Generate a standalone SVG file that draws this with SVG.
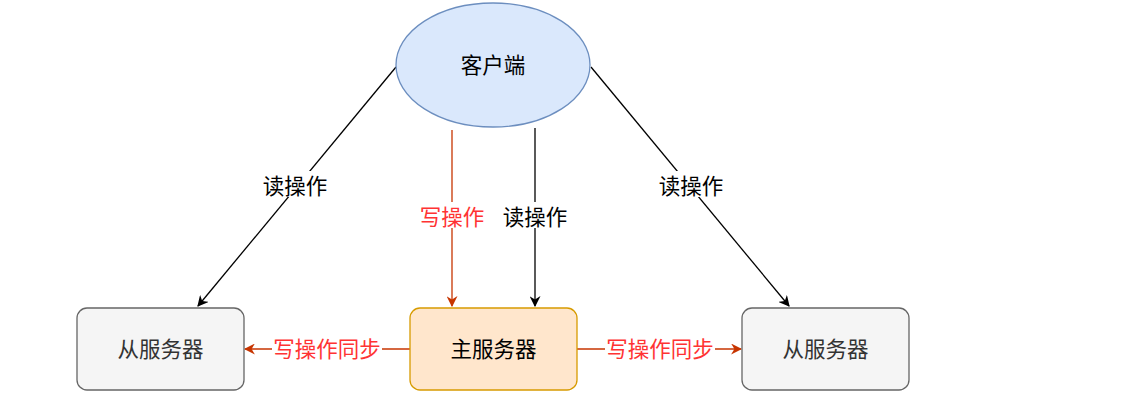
<svg xmlns="http://www.w3.org/2000/svg" width="1145" height="419" viewBox="0 0 1145 419">
<style>
text{font-family:"Noto Sans CJK SC","Liberation Sans",sans-serif;font-size:21.5px;text-anchor:middle;dominant-baseline:central}
.blk{stroke:#000;stroke-width:1.3;fill:none}
.red{stroke:#c73500;stroke-width:1.3;fill:none}
.lbl{fill:#000}
.rlbl{fill:#ff3333}
.bg{fill:#fff}
</style>
<defs>
<marker id="ab" viewBox="0 0 10 10" refX="9" refY="5" markerWidth="11" markerHeight="11" markerUnits="userSpaceOnUse" orient="auto"><path d="M0,0 L10,5 L0,10 L3,5 Z" fill="#000"/></marker>
<marker id="ar" viewBox="0 0 10 10" refX="9" refY="5" markerWidth="11" markerHeight="11" markerUnits="userSpaceOnUse" orient="auto"><path d="M0,0 L10,5 L0,10 L3,5 Z" fill="#c73500"/></marker>
</defs>
<rect width="1145" height="419" fill="#fff"/>
<g id="connectors">
<line class="blk" x1="396" y1="67" x2="198" y2="306" marker-end="url(#ab)"/>
<rect class="bg" x="262" y="171" width="66" height="26"/>
<text class="lbl" x="295" y="184">读操作</text>
<line class="blk" x1="591" y1="67" x2="789" y2="306" marker-end="url(#ab)"/>
<rect class="bg" x="658" y="171" width="66" height="26"/>
<text class="lbl" x="691" y="184">读操作</text>
<line class="red" x1="452" y1="130" x2="452" y2="306" marker-end="url(#ar)"/>
<rect class="bg" x="419" y="202" width="66" height="26"/>
<text class="rlbl" x="452" y="215">写操作</text>
<line class="blk" x1="535" y1="128" x2="535" y2="306" marker-end="url(#ab)"/>
<rect class="bg" x="502" y="202" width="66" height="26"/>
<text class="lbl" x="535" y="215">读操作</text>
<line class="red" x1="410" y1="349" x2="245" y2="349" marker-end="url(#ar)"/>
<rect class="bg" x="272" y="335" width="110" height="26"/>
<text class="rlbl" x="327" y="347">写操作同步</text>
<line class="red" x1="577" y1="349" x2="741" y2="349" marker-end="url(#ar)"/>
<rect class="bg" x="605" y="335" width="110" height="26"/>
<text class="rlbl" x="660" y="347">写操作同步</text>
</g>
<g id="client">
<ellipse cx="493" cy="65" rx="97" ry="62" fill="#dae8fc" stroke="#6c8ebf" stroke-width="1.3"/>
<text x="493" y="63" fill="#000">客户端</text>
</g>
<g id="slave-left">
<rect x="77" y="308" width="167" height="82" rx="10" fill="#f5f5f5" stroke="#666" stroke-width="1.3"/>
<text x="160.5" y="347" fill="#333">从服务器</text>
</g>
<g id="master">
<rect x="410" y="308" width="167" height="82" rx="10" fill="#ffe6cc" stroke="#d79b00" stroke-width="1.3"/>
<text x="493.5" y="347" fill="#000">主服务器</text>
</g>
<g id="slave-right">
<rect x="742" y="308" width="167" height="82" rx="10" fill="#f5f5f5" stroke="#666" stroke-width="1.3"/>
<text x="825.5" y="347" fill="#333">从服务器</text>
</g>
</svg>
